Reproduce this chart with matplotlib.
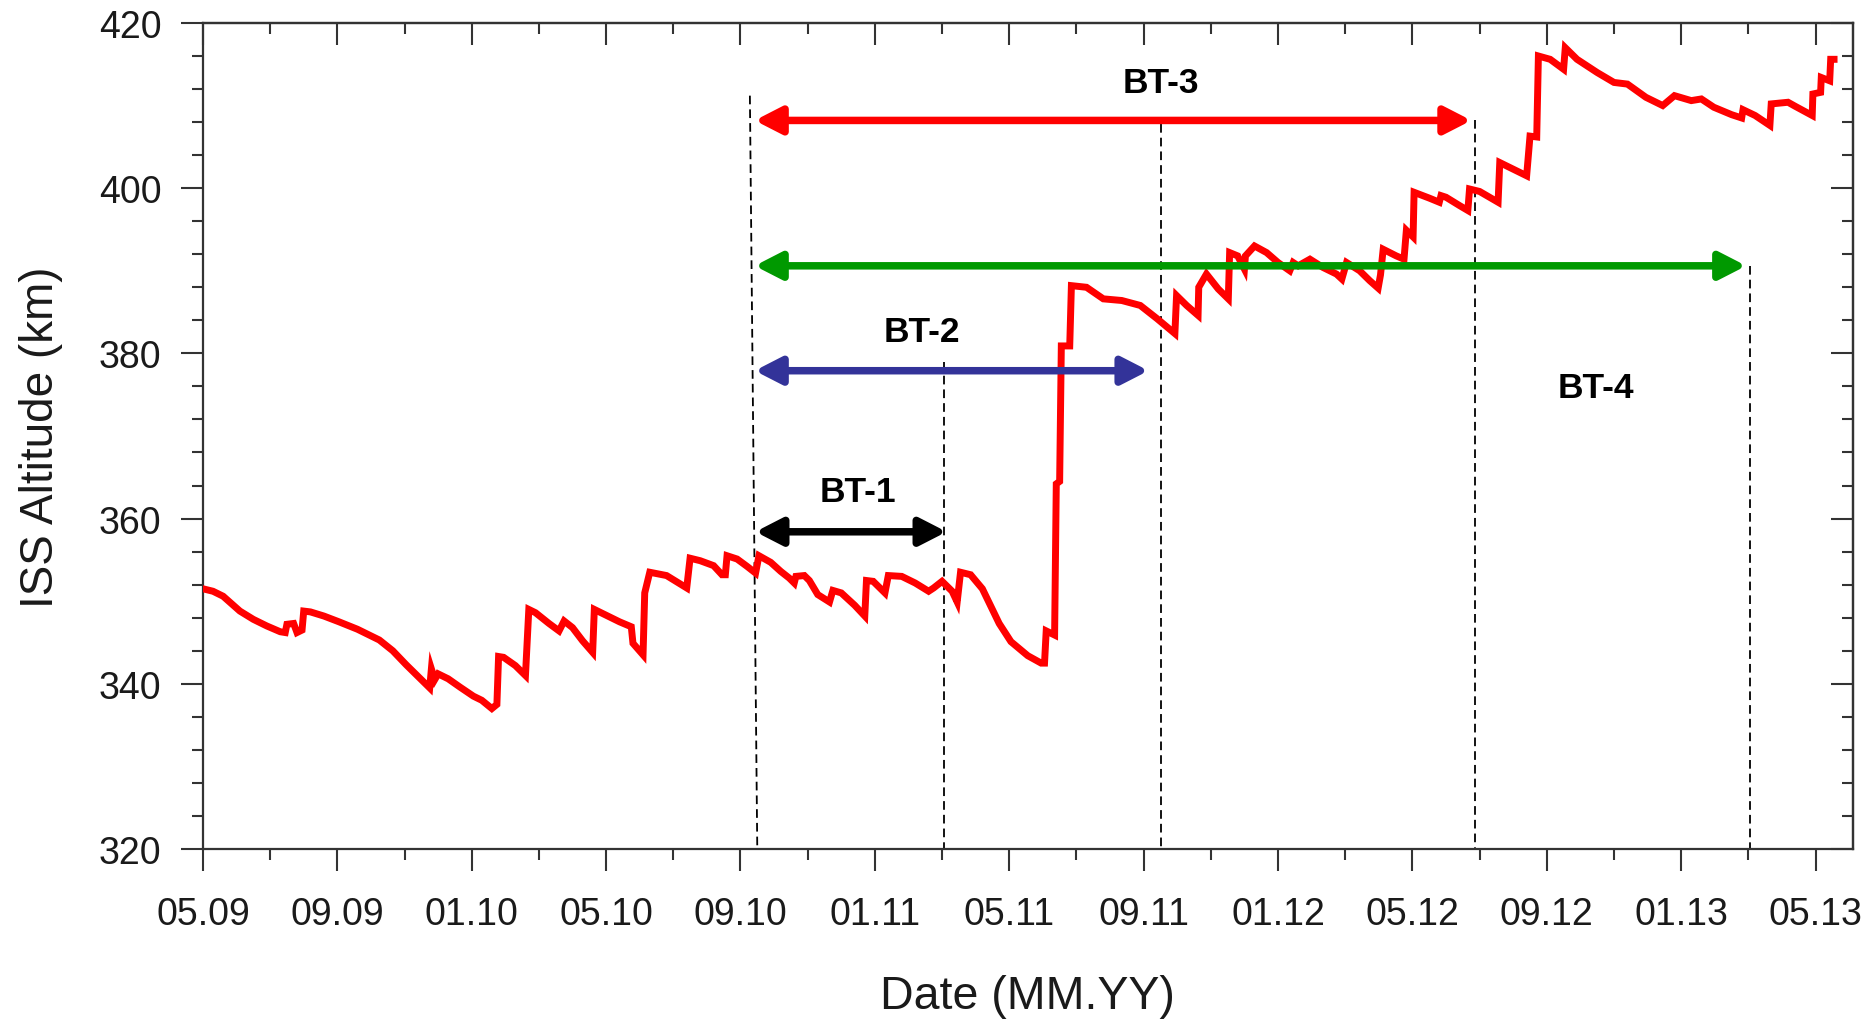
import matplotlib
matplotlib.use("Agg")
import matplotlib.pyplot as plt
from matplotlib.ticker import MultipleLocator, FixedLocator

plt.rcParams["font.family"] = ["Liberation Sans", "DejaVu Sans"]

# months counted from 05.2009
tick_months = [0, 4, 8, 12, 16, 20, 24, 28, 32, 36, 40, 44, 48]
tick_labels = ["05.09", "09.09", "01.10", "05.10", "09.10", "01.11", "05.11",
               "09.11", "01.12", "05.12", "09.12", "01.13", "05.13"]

# ISS altitude trace (month offset, km)
alt_month = [0.0, 0.3, 0.6, 1.1, 1.5, 1.9, 2.3, 2.45, 2.5, 2.7, 2.8, 2.95, 3.0, 3.2,
             3.6, 4.05, 4.6, 5.25, 5.65, 6.05, 6.45, 6.75, 6.8, 6.9, 7.0, 7.3, 7.65,
             8.05, 8.3, 8.6, 8.75, 8.8, 8.95, 9.3, 9.6, 9.7, 9.9, 10.3, 10.6, 10.75,
             11.0, 11.3, 11.6, 11.65, 12.0, 12.4, 12.75, 12.8, 13.1, 13.15, 13.3,
             13.8, 14.4, 14.5, 14.8, 15.2, 15.45, 15.55, 15.6, 15.9, 16.2, 16.45,
             16.55, 16.9, 17.2, 17.45, 17.6, 17.65, 17.9, 18.05, 18.3, 18.65, 18.75,
             19.0, 19.4, 19.7, 19.75, 19.95, 20.3, 20.4, 20.8, 21.2, 21.6, 21.75,
             22.0, 22.3, 22.45, 22.55, 22.85, 23.2, 23.7, 24.05, 24.55, 24.95, 25.05,
             25.1, 25.35, 25.4, 25.5, 25.55, 25.8, 25.85, 26.3, 26.8, 27.35, 27.9,
             28.4, 28.93, 28.98, 29.28, 29.62, 29.64, 29.87, 30.22, 30.52, 30.56,
             30.8, 31.0, 31.03, 31.3, 31.66, 32.0, 32.35, 32.45, 32.6, 32.95, 33.34,
             33.74, 33.9, 34.04, 34.43, 34.73, 34.98, 35.05, 35.13, 35.52, 35.75,
             35.82, 36.02, 36.05, 36.5, 36.8, 36.85, 37.0, 37.4, 37.65, 37.7, 38.0,
             38.55, 38.6, 39.0, 39.4, 39.5, 39.7, 39.75, 40.1, 40.5, 40.55, 40.9,
             41.5, 42.0, 42.4, 42.95, 43.45, 43.8, 44.3, 44.6, 44.97, 45.5, 45.8,
             45.84, 46.2, 46.64, 46.68, 47.18, 47.4, 47.9, 47.92, 48.15, 48.17,
             48.42, 48.45, 48.55]
alt_km = [351.5, 351.2, 350.6, 348.8, 347.8, 347.0, 346.3, 346.2, 347.2, 347.3, 346.2,
          346.5, 348.8, 348.7, 348.2, 347.5, 346.6, 345.3, 344.0, 342.3, 340.7, 339.5,
          341.8, 340.5, 341.2, 340.6, 339.6, 338.5, 338.0, 337.0, 337.5, 343.3, 343.2,
          342.2, 341.0, 349.0, 348.6, 347.3, 346.4, 347.6, 346.8, 345.2, 343.8, 349.0,
          348.3, 347.5, 346.9, 344.9, 343.5, 351.0, 353.5, 353.1, 351.6, 355.2, 354.9,
          354.3, 353.2, 353.2, 355.5, 355.1, 354.2, 353.4, 355.5, 354.7, 353.6, 352.8,
          352.2, 353.0, 353.1, 352.5, 350.8, 349.9, 351.3, 351.0, 349.5, 348.2, 352.5,
          352.4, 351.0, 353.1, 353.0, 352.2, 351.2, 351.6, 352.4, 351.2, 349.9, 353.5,
          353.2, 351.5, 347.3, 345.1, 343.4, 342.5, 342.5, 346.4, 345.9, 364.2, 364.5,
          380.9, 380.9, 388.2, 388.0, 386.6, 386.4, 385.8, 384.2, 382.4, 387.0, 385.8,
          384.6, 388.0, 389.6, 387.8, 386.6, 392.2, 391.8, 390.2, 391.8, 393.0, 392.2,
          391.0, 390.0, 391.0, 390.6, 391.4, 390.4, 389.6, 389.0, 391.0, 390.0, 388.8,
          387.9, 389.5, 392.6, 391.8, 391.4, 394.9, 394.1, 399.5, 398.8, 398.3, 399.1,
          398.9, 397.9, 397.3, 399.9, 399.6, 398.3, 403.1, 402.3, 401.5, 406.3, 406.2,
          416.0, 415.6, 414.4, 417.0, 415.6, 414.0, 412.8, 412.6, 411.0, 410.0, 411.2,
          410.6, 410.8, 409.8, 408.9, 408.5, 409.5, 408.8, 407.6, 410.2, 410.4, 409.9,
          408.8, 411.4, 411.6, 413.4, 413.0, 415.6, 415.6]

# dashed guide lines: (month at top, month at bottom, km at top)
guide_top_month = [16.28, 22.05, 28.53, 37.87, 46.05]
guide_bottom_month = [16.50, 22.05, 28.53, 37.87, 46.05]
guide_top_km = [411.2, 379.0, 407.8, 408.2, 390.6]

# bi-directional test periods
bt_names = ["BT-1", "BT-2", "BT-3", "BT-4"]
bt_start = [16.33, 16.31, 16.31, 16.31]
bt_end = [22.25, 28.26, 37.87, 46.05]
bt_level = [358.4, 377.9, 408.2, 390.6]
bt_colors = ["black", "#333399", "#ff0000", "#009900"]
bt_label_month = [19.5, 21.4, 28.5, 41.45]
bt_label_km = [363.3, 382.7, 412.8, 375.9]

fig = plt.figure(figsize=(18.72, 10.2), dpi=100)
ax = fig.add_axes([0.1084, 0.1667, 0.8812, 0.8098])

for xt, xb, yt in zip(guide_top_month, guide_bottom_month, guide_top_km):
    ax.plot([xt, xb], [yt, 320], color="black", lw=1.3, dashes=(4.8, 2.8), zorder=2)

ax.plot(alt_month, alt_km, color="#ff0000", lw=5.0, solid_joinstyle="miter", zorder=3)

for name, x0, x1, y, c in zip(bt_names, bt_start, bt_end, bt_level, bt_colors):
    ax.annotate("", xy=(x1, y), xytext=(x0, y),
                arrowprops=dict(arrowstyle="<|-|>,head_length=1.6,head_width=0.82",
                                mutation_scale=10, lw=5.4, color=c,
                                shrinkA=2.7, shrinkB=2.7, joinstyle="round",
                                capstyle="butt"),
                zorder=4)

for name, x, y in zip(bt_names, bt_label_month, bt_label_km):
    ax.text(x, y, name, fontsize=25.5, fontweight="bold", ha="center", va="center",
            color="black", zorder=5)

ax.set_xlim(0, 49.1)
ax.set_ylim(320, 420)

ax.xaxis.set_major_locator(FixedLocator(tick_months))
ax.set_xticklabels(tick_labels)
ax.xaxis.set_minor_locator(MultipleLocator(2))
ax.yaxis.set_major_locator(MultipleLocator(20))
ax.yaxis.set_minor_locator(MultipleLocator(4))

spine_c = "#333333"
for sp in ax.spines.values():
    sp.set_linewidth(1.6)
    sp.set_color(spine_c)

ax.tick_params(which="major", direction="out", length=16, width=1.5, color=spine_c,
               labelsize=27, labelcolor="#1a1a1a")
ax.tick_params(which="minor", direction="out", length=8, width=1.5, color=spine_c)
ax.tick_params(axis="x", which="major", pad=18)
ax.tick_params(axis="y", which="major", pad=14)

# top and right axes carry inward ticks only
top = ax.secondary_xaxis("top")
top.xaxis.set_major_locator(FixedLocator(tick_months))
top.xaxis.set_minor_locator(MultipleLocator(2))
top.tick_params(which="major", direction="in", length=16, width=1.5, color=spine_c,
                labeltop=False)
top.tick_params(which="minor", direction="in", length=8, width=1.5, color=spine_c)
top.spines["top"].set_linewidth(1.6)
top.spines["top"].set_color(spine_c)

right = ax.secondary_yaxis("right")
right.yaxis.set_major_locator(MultipleLocator(20))
right.yaxis.set_minor_locator(MultipleLocator(4))
right.tick_params(which="major", direction="in", length=16, width=1.5, color=spine_c,
                  labelright=False)
right.tick_params(which="minor", direction="in", length=8, width=1.5, color=spine_c)
right.spines["right"].set_linewidth(1.6)
right.spines["right"].set_color(spine_c)

ax.set_xlabel("Date (MM.YY)", fontsize=33.5, color="#1a1a1a", labelpad=30)
ax.set_ylabel("ISS Altitude (km)", fontsize=33, color="#1a1a1a", labelpad=26)

fig.savefig("out.png", dpi=100)
